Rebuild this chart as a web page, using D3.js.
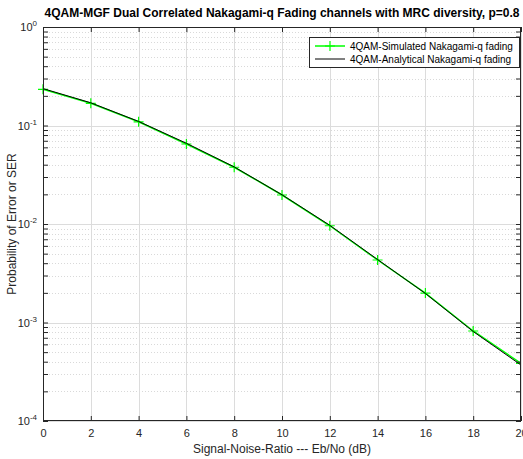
<!DOCTYPE html>
<html>
<head>
<meta charset="utf-8">
<script src="https://cdn.jsdelivr.net/npm/d3@7"></script>
<style>
  body { margin: 0; background: #fff; }
  text { font-family: "Liberation Sans", Arial, sans-serif; }
</style>
</head>
<body>
<div id="chart"></div>
<script>
// data
var snr = [0, 2, 4, 6, 8, 10, 12, 14, 16, 18, 20];
var serSimulated = [0.233, 0.168, 0.109, 0.0649, 0.0377, 0.0197, 0.0096, 0.00431, 0.00199, 0.00082, 0.000385];
var serAnalytical = [0.237, 0.170, 0.110, 0.0660, 0.0380, 0.0198, 0.0097, 0.00436, 0.00197, 0.00081, 0.000370];
var xTicks = [0, 2, 4, 6, 8, 10, 12, 14, 16, 18, 20];
var yDecades = [0, -1, -2, -3, -4];
var legendLabels = ["4QAM-Simulated Nakagami-q fading", "4QAM-Analytical Nakagami-q fading"];

var W = 523, H = 459;
var margin = {top: 27, right: 2, bottom: 38, left: 43};
var width = W - margin.left - margin.right,
    height = H - margin.top - margin.bottom;
var axisColor = "#262626";

var svg = d3.select("#chart").append("svg")
  .attr("width", W).attr("height", H);
var g = svg.append("g")
  .attr("transform", "translate(" + margin.left + "," + margin.top + ")");

var x = d3.scaleLinear().domain([0, 20]).range([0, width]);
var y = d3.scaleLog().domain([1e-4, 1]).range([height, 0]);

// minor grid (dotted)
var minors = [];
yDecades.slice(1).forEach(function(e) {
  for (var k = 2; k <= 9; k++) minors.push(k * Math.pow(10, e));
});
g.append("g").selectAll("line").data(minors).enter().append("line")
  .attr("x1", 0).attr("x2", width)
  .attr("y1", function(d) { return Math.round(y(d)) + 0.5; })
  .attr("y2", function(d) { return Math.round(y(d)) + 0.5; })
  .attr("stroke", "#d9d9d9").attr("stroke-dasharray", "1,2");

// major grid
g.append("g").selectAll("line").data(yDecades).enter().append("line")
  .attr("x1", 0).attr("x2", width)
  .attr("y1", function(d) { return Math.round(y(Math.pow(10, d))) + 0.5; })
  .attr("y2", function(d) { return Math.round(y(Math.pow(10, d))) + 0.5; })
  .attr("stroke", "#dcdcdc");
g.append("g").selectAll("line").data(xTicks).enter().append("line")
  .attr("y1", 0).attr("y2", height)
  .attr("x1", function(d) { return Math.round(x(d)) + 0.5; })
  .attr("x2", function(d) { return Math.round(x(d)) + 0.5; })
  .attr("stroke", "#dcdcdc");

// curves
var line = d3.line()
  .x(function(d) { return x(d[0]); })
  .y(function(d) { return y(d[1]); });
var simData = snr.map(function(s, i) { return [s, serSimulated[i]]; });
var anaData = snr.map(function(s, i) { return [s, serAnalytical[i]]; });

svg.append("defs").append("clipPath").attr("id", "clip")
  .append("rect").attr("x", -6).attr("y", -6).attr("width", width + 6).attr("height", height + 12);

var plot = g.append("g").attr("clip-path", "url(#clip)");
plot.append("path").datum(simData)
  .attr("d", line).attr("fill", "none").attr("stroke", "#00ff00").attr("stroke-width", 1.5);
plot.append("g").selectAll("path").data(simData).enter().append("path")
  .attr("d", function(d) {
    var cx = x(d[0]), cy = y(d[1]), r = 5;
    return "M" + (cx - r) + "," + cy + "H" + (cx + r) + "M" + cx + "," + (cy - r) + "V" + (cy + r);
  })
  .attr("stroke", "#00ff00").attr("stroke-width", 1.2);
plot.append("path").datum(anaData)
  .attr("d", line).attr("fill", "none").attr("stroke", "#000").attr("stroke-width", 1);

// axes box with inward ticks
var tl = 5;
var axB = d3.axisBottom(x).tickValues(xTicks).tickSizeInner(-tl).tickSizeOuter(0).tickPadding(8);
var gx = g.append("g").attr("transform", "translate(0," + height + ")").call(axB);
var axT = d3.axisTop(x).tickValues(xTicks).tickSizeInner(-tl).tickSizeOuter(0).tickFormat("");
g.append("g").call(axT);

var allY = minors.concat(yDecades.map(function(e) { return Math.pow(10, e); }));
var axL = d3.axisLeft(y).tickValues(allY).tickSizeInner(-tl).tickSizeOuter(0).tickFormat("");
g.append("g").call(axL);
var axR = d3.axisRight(y).tickValues(allY).tickSizeInner(-tl).tickSizeOuter(0).tickFormat("");
g.append("g").attr("transform", "translate(" + width + ",0)").call(axR);

g.selectAll(".domain").remove();
g.selectAll(".tick line").attr("stroke", axisColor);
gx.selectAll(".tick text").attr("font-size", "11px").attr("fill", axisColor)
  .attr("font-family", "Liberation Sans, Arial, sans-serif");

g.append("rect").attr("x", 0.5).attr("y", 0.5).attr("width", width - 1).attr("height", height - 1)
  .attr("fill", "none").attr("stroke", axisColor);

// y tick labels 10^n
var yl = g.append("g").selectAll("text").data(yDecades).enter().append("text")
  .attr("x", -6).attr("y", function(d) { return y(Math.pow(10, d)) + 4; })
  .attr("text-anchor", "end").attr("font-size", "11px").attr("fill", axisColor);
yl.append("tspan").text("10");
yl.append("tspan").attr("font-size", "8px").attr("dy", "-5").text(function(d) { return d; });

// title & labels
svg.append("text").attr("x", margin.left + width / 2).attr("y", 17)
  .attr("text-anchor", "middle").attr("font-size", "12px").attr("font-weight", "bold")
  .attr("fill", "#000")
  .text("4QAM-MGF Dual Correlated Nakagami-q Fading channels with MRC diversity, p=0.8");
svg.append("text").attr("x", margin.left + width / 2).attr("y", 453)
  .attr("text-anchor", "middle").attr("font-size", "12px").attr("fill", axisColor)
  .text("Signal-Noise-Ratio --- Eb/No (dB)");
svg.append("text").attr("transform", "translate(16," + (margin.top + height / 2) + ") rotate(-90)")
  .attr("text-anchor", "middle").attr("font-size", "12px").attr("fill", axisColor)
  .text("Probability of Error or SER");

// legend
var lg = svg.append("g").attr("transform", "translate(309,37)");
lg.append("rect").attr("x", 0.5).attr("y", 0.5).attr("width", 210).attr("height", 30)
  .attr("fill", "#fff").attr("stroke", axisColor);
var legColors = ["#00ff00", "#000"];
legendLabels.forEach(function(lab, i) {
  var ly = 9 + i * 13;
  lg.append("line").attr("x1", 6).attr("x2", 36).attr("y1", ly).attr("y2", ly)
    .attr("stroke", legColors[i]).attr("stroke-width", i === 0 ? 1.5 : 1);
  if (i === 0) {
    lg.append("path").attr("d", "M16," + ly + "H26M21," + (ly - 5) + "V" + (ly + 5))
      .attr("stroke", legColors[i]).attr("stroke-width", 1.2);
  }
  lg.append("text").attr("x", 41).attr("y", ly + 3.5).attr("font-size", "10px")
    .attr("fill", "#000").text(lab);
});
</script>
</body>
</html>
